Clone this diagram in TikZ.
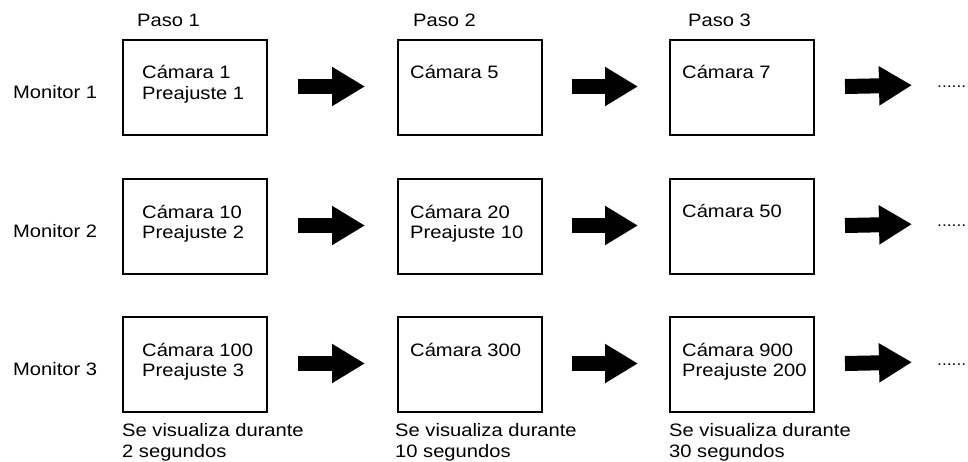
\documentclass[tikz,border=0pt]{standalone}
\usepackage{fontspec}
\setmainfont{Liberation Sans}[FakeStretch=1.12]
\usetikzlibrary{arrows.meta,calc}
\begin{document}
\begin{tikzpicture}[x=1pt,y=-1pt,
  box/.style={draw,line width=2pt,minimum width=144pt,minimum height=95pt,anchor=north west,inner sep=0pt},
  lbl/.style={anchor=base west,inner sep=0pt,font=\fontsize{18}{20.5}\selectfont,align=left},
  dotlbl/.style={lbl,font=\fontsize{15.5}{18}\selectfont},
  bigarrow/.style={line width=15pt,-{Triangle[length=33pt,width=37pt]}}]
\useasboundingbox (0,0) rectangle (968,462);
% boxes
\node[box] (b11) at (122,39) {};
\node[box] (b12) at (397,39) {};
\node[box] (b13) at (669,39) {};
\node[box] (b21) at (122,178) {};
\node[box] (b22) at (397,178) {};
\node[box] (b23) at (669,178) {};
\node[box] (b31) at (122,316) {};
\node[box] (b32) at (397,316) {};
\node[box] (b33) at (669,316) {};
% box texts (base = baseline of last line)
\node[lbl] (t11) at (142,99.5) {Cámara 1\\Preajuste 1};
\node[lbl] (t12) at (410,79) {Cámara 5};
\node[lbl] (t13) at (682,79) {Cámara 7};
\node[lbl] (t21) at (142,238.5) {Cámara 10\\Preajuste 2};
\node[lbl] (t22) at (410,238.5) {Cámara 20\\Preajuste 10};
\node[lbl] (t23) at (682,218) {Cámara 50};
\node[lbl] (t31) at (142,376.5) {Cámara 100\\Preajuste 3};
\node[lbl] (t32) at (410,356) {Cámara 300};
\node[lbl] (t33) at (682,376.5) {Cámara 900\\Preajuste 200};
% headers
\node[lbl] (p1) at (137,27) {Paso 1};
\node[lbl] (p2) at (413,27) {Paso 2};
\node[lbl] (p3) at (688,27) {Paso 3};
\node[lbl] (m1) at (13,99) {Monitor 1};
\node[lbl] (m2) at (13,237) {Monitor 2};
\node[lbl] (m3) at (13,375) {Monitor 3};
% bottom
\node[lbl] (s1) at (122,457) {Se visualiza durante\\2 segundos};
\node[lbl] (s2) at (395,457) {Se visualiza durante\\10 segundos};
\node[lbl] (s3) at (669,457) {Se visualiza durante\\30 segundos};
% dots
\node[dotlbl] (d1) at (937,88) {......};
\node[dotlbl] (d2) at (937,227) {......};
\node[dotlbl] (d3) at (937,365) {......};
% arrows
\foreach \r in {1,2,3}{
  \draw[bigarrow] ($(b\r1.east)+(30,-1)$) -- ($(b\r2.west)+(-32,-1)$);
  \draw[bigarrow] ($(b\r2.east)+(29,-1)$) -- ($(b\r3.west)+(-31,-1)$);
  \draw[bigarrow] ($(b\r3.east)+(30,-1)$) -- ($(d\r.west)+(-25,-2)$);
}
\end{tikzpicture}
\end{document}
